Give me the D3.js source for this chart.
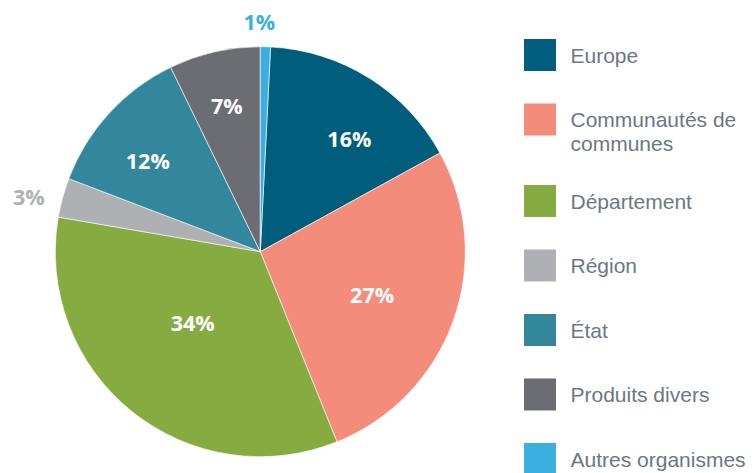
<!DOCTYPE html>
<html>
<head>
<meta charset="utf-8">
<script src="https://cdn.jsdelivr.net/npm/d3@7"></script>
<style>
  html, body { margin: 0; padding: 0; background: #ffffff; }
  svg { display: block; }
</style>
</head>
<body>
<svg id="chart" width="752" height="473"></svg>
<script>
// ---- data ----
const categories = ["Europe", "Communautés de communes", "Département", "Région", "État", "Produits divers", "Autres organismes"];
const values = [16.2, 26.9, 33.8, 3.1, 12.0, 7.2, 0.8];
const valueLabels = ["16%", "27%", "34%", "3%", "12%", "7%", "1%"];
const legendLines = [["Europe"], ["Communautés de", "communes"], ["Département"], ["Région"], ["État"], ["Produits divers"], ["Autres organismes"]];

// ---- style / layout ----
const colors = ["#005d7c", "#f48c7b", "#86ac41", "#afb0b4", "#32879c", "#6c6d72", "#3bb0e0"];
const outsideLabel = [false, false, false, true, false, false, true];
const labelRadiusFactor = [0.70, 0.585, 0.48, 1.16, 0.705, 0.73, 1.12];
const labelAngleShiftDeg = [6.3, 1.6, 4.5, -2.1, -3.6, 0, -1.7];

const cx = 260.3, cy = 251.7, R = 205;
const svg = d3.select("#chart");

const total = d3.sum(values);
// last slice (Autres) sits just right of 12 o'clock, so the cycle starts after it
const start = 2 * Math.PI * values[values.length - 1] / total;

const pie = d3.pie().sort(null).value(d => d).startAngle(start).endAngle(start + 2 * Math.PI);
const arcs = pie(values);
const arc = d3.arc().innerRadius(0).outerRadius(R);

const g = svg.append("g").attr("transform", `translate(${cx},${cy})`);

g.selectAll("path.slice")
  .data(arcs)
  .enter().append("path")
  .attr("class", "slice")
  .attr("d", arc)
  .attr("fill", (d, i) => colors[i])
  .attr("stroke", "#ffffff")
  .attr("stroke-width", 0.6)
  .attr("stroke-linejoin", "round");

g.selectAll("text.pct")
  .data(arcs)
  .enter().append("text")
  .attr("class", "pct")
  .attr("transform", (d, i) => {
    let a = (d.startAngle + d.endAngle) / 2 + labelAngleShiftDeg[i] * Math.PI / 180;
    const rr = R * labelRadiusFactor[i];
    return `translate(${rr * Math.sin(a)},${-rr * Math.cos(a)})`;
  })
  .attr("text-anchor", "middle")
  .attr("dy", "0.36em")
  .attr("font-family", "'Open Sans', 'DejaVu Sans', sans-serif")
  .attr("font-weight", 700)
  .attr("font-size", 21.5)
  .attr("fill", (d, i) => outsideLabel[i] ? colors[i] : "#ffffff")
  .text((d, i) => valueLabels[i]);

// ---- legend ----
const legend = svg.append("g").attr("transform", "translate(524,0)");
const sq = 32, lineH = 24;
let y = 39;
categories.forEach((c, i) => {
  const item = legend.append("g").attr("transform", `translate(0,${y})`);
  item.append("rect").attr("width", sq).attr("height", sq).attr("fill", colors[i]);
  const t = item.append("text")
    .attr("x", 46.5)
    .attr("y", sq / 2 + 7.5)
    .attr("font-family", "'Liberation Sans', Arial, sans-serif")
    .attr("font-size", 21)
    .attr("fill", "#6b7882");
  legendLines[i].forEach((ln, k) => {
    t.append("tspan").attr("x", 46.5).attr("dy", k === 0 ? 0 : lineH).text(ln);
  });
  y += 64.5 + (legendLines[i].length - 1) * 17;
});
</script>
</body>
</html>
